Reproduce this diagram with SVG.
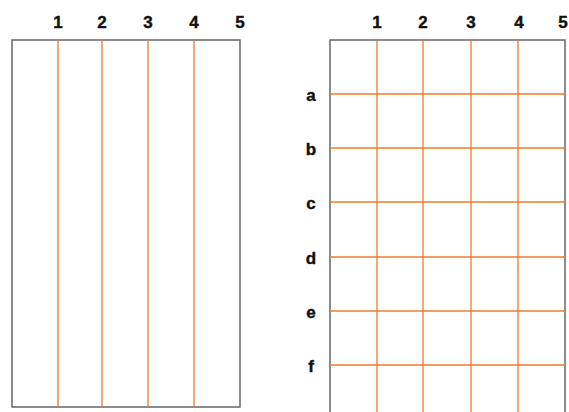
<svg xmlns="http://www.w3.org/2000/svg" width="569" height="412" viewBox="0 0 569 412">
<style>
.frame{fill:#fff;stroke:#666;stroke-width:1.5}
.g{stroke:#f07a2c;stroke-width:1.3;fill:none}
.lbl{font-family:"Liberation Sans",Arial,sans-serif;font-weight:bold;font-size:17px;fill:#111;text-anchor:middle;stroke:#111;stroke-width:0.4}
</style>
<rect width="569" height="412" fill="#fff"/>
<g id="left-grid">
<rect class="frame" x="12" y="40" width="228" height="367"/>
<g class="g">
<line x1="58" y1="40" x2="58" y2="407"/>
<line x1="102" y1="40" x2="102" y2="407"/>
<line x1="148" y1="40" x2="148" y2="407"/>
<line x1="194" y1="40" x2="194" y2="407"/>
</g>
<g class="lbl">
<text x="58" y="28">1</text>
<text x="102" y="28">2</text>
<text x="148" y="28">3</text>
<text x="194" y="28">4</text>
<text x="240" y="28">5</text>
</g>
</g>
<g id="right-grid">
<path class="frame" d="M330,414 V40 H565 V414"/>
<g class="g">
<line x1="377" y1="40" x2="377" y2="412"/>
<line x1="423" y1="40" x2="423" y2="412"/>
<line x1="471" y1="40" x2="471" y2="412"/>
<line x1="518" y1="40" x2="518" y2="412"/>
<line x1="330" y1="94" x2="565" y2="94"/>
<line x1="330" y1="148" x2="565" y2="148"/>
<line x1="330" y1="202" x2="565" y2="202"/>
<line x1="330" y1="257" x2="565" y2="257"/>
<line x1="330" y1="311" x2="565" y2="311"/>
<line x1="330" y1="365" x2="565" y2="365"/>
</g>
<g class="lbl">
<text x="377" y="28">1</text>
<text x="423" y="28">2</text>
<text x="471" y="28">3</text>
<text x="519" y="28">4</text>
<text x="563" y="28">5</text>
<text x="311" y="101">a</text>
<text x="311" y="155">b</text>
<text x="311" y="209">c</text>
<text x="311" y="264">d</text>
<text x="311" y="318">e</text>
<text x="311" y="372">f</text>
</g>
</g>
</svg>
